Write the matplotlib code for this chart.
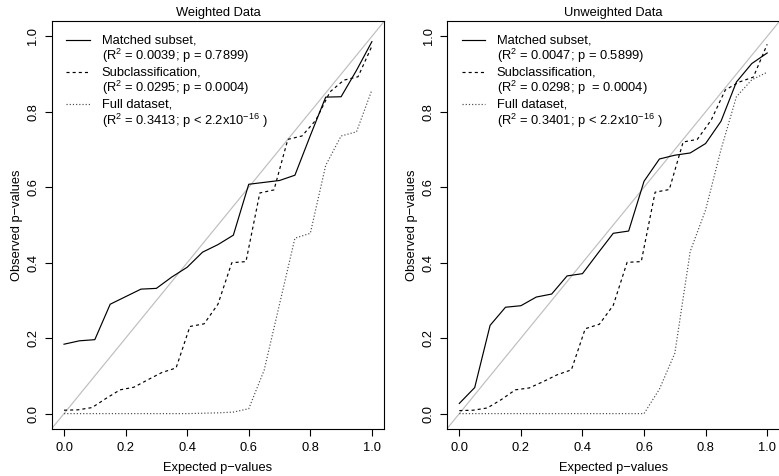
import numpy as np
import matplotlib
matplotlib.use("Agg")
import matplotlib.pyplot as plt

plt.rcParams['font.family'] = ['Liberation Sans', 'DejaVu Sans']
plt.rcParams['mathtext.fontset'] = 'custom'
plt.rcParams['mathtext.rm'] = 'Liberation Sans'
plt.rcParams['mathtext.it'] = 'Liberation Sans:italic'
plt.rcParams['mathtext.bf'] = 'Liberation Sans:bold'

# ---------------- data ----------------
x_grid = [0.00, 0.05, 0.10, 0.15, 0.20, 0.25, 0.30, 0.35, 0.40, 0.45, 0.50,
          0.55, 0.60, 0.65, 0.70, 0.75, 0.80, 0.85, 0.90, 0.95, 1.00]
x_sub = [0.000, 0.045, 0.091, 0.136, 0.182, 0.227, 0.273, 0.318, 0.364, 0.409,
         0.455, 0.500, 0.545, 0.591, 0.636, 0.682, 0.727, 0.773, 0.818, 0.864,
         0.909, 0.955, 1.000]

# Weighted data
w_matched = [0.184, 0.193, 0.196, 0.290, 0.310, 0.330, 0.332, 0.362, 0.388, 0.428, 0.448,
             0.473, 0.608, 0.613, 0.618, 0.632, 0.737, 0.839, 0.840, 0.910, 0.986]
w_subclass = [0.009, 0.010, 0.016, 0.040, 0.063, 0.070, 0.090, 0.109, 0.121, 0.231, 0.238,
              0.290, 0.400, 0.403, 0.585, 0.593, 0.727, 0.736, 0.778, 0.853, 0.884, 0.893, 0.974]
w_full = [0.000, 0.000, 0.000, 0.000, 0.000, 0.000, 0.000, 0.000, 0.000, 0.001, 0.002,
          0.004, 0.013, 0.115, 0.290, 0.465, 0.478, 0.658, 0.736, 0.747, 0.858]

# Unweighted data
u_matched = [0.027, 0.069, 0.234, 0.282, 0.286, 0.309, 0.317, 0.365, 0.371, 0.425, 0.478,
             0.484, 0.616, 0.675, 0.685, 0.691, 0.716, 0.775, 0.879, 0.928, 0.956]
u_subclass = [0.008, 0.009, 0.015, 0.037, 0.063, 0.068, 0.085, 0.103, 0.116, 0.225, 0.237,
              0.287, 0.401, 0.403, 0.587, 0.594, 0.720, 0.727, 0.778, 0.858, 0.879, 0.892, 0.979]
u_full = [0.000, 0.000, 0.000, 0.000, 0.000, 0.000, 0.000, 0.000, 0.000, 0.000, 0.000,
          0.000, 0.000, 0.065, 0.160, 0.430, 0.540, 0.700, 0.840, 0.885, 0.905]

titles = ["Weighted Data", "Unweighted Data"]
legend_names = ["Matched subset,", "Subclassification,", "Full dataset,"]
legend_stats = [
    [r"($\mathrm{R}^2$ = 0.0039; p = 0.7899)",
     r"($\mathrm{R}^2$ = 0.0295; p = 0.0004)",
     r"($\mathrm{R}^2$ = 0.3413; p < 2.2x$\mathrm{10}^{-16}$ )"],
    [r"($\mathrm{R}^2$ = 0.0047; p = 0.5899)",
     r"($\mathrm{R}^2$ = 0.0298; p  = 0.0004)",
     r"($\mathrm{R}^2$ = 0.3401; p < 2.2x$\mathrm{10}^{-16}$ )"],
]
ticks = [0.0, 0.2, 0.4, 0.6, 0.8, 1.0]
tick_labels = ["0.0", "0.2", "0.4", "0.6", "0.8", "1.0"]

# ---------------- figure ----------------
W, H = 779, 476
fig = plt.figure(figsize=(W / 100, H / 100), dpi=100)
fs = 9.3

ax_w = 332.5 / W
ax_h = 407.4 / H
ax_b = (H - 428.7) / H
ax1 = fig.add_axes([51.7 / W, ax_b, ax_w, ax_h])
ax2 = fig.add_axes([447.0 / W, ax_b, ax_w, ax_h])

styles = [dict(ls='-', color='black', lw=0.85),
          dict(ls=(0, (2.6, 2.6)), color='black', lw=0.85),
          dict(ls=(0, (1.0, 1.7)), color='#4a4a4a', lw=0.85)]

panels = [(ax1, [w_matched, w_subclass, w_full]),
          (ax2, [u_matched, u_subclass, u_full])]

for i, (ax, series) in enumerate(panels):
    ax.axline((0, 0), slope=1, color='#BEBEBE', lw=0.85, zorder=1)
    xs = [x_grid, x_sub, x_grid]
    for xv, yv, st in zip(xs, series, styles):
        ax.plot(xv, yv, zorder=2, **st)
    ax.set_xlim(-0.04, 1.04)
    ax.set_ylim(-0.04, 1.04)
    ax.set_xticks(ticks)
    ax.set_xticklabels(tick_labels, fontsize=fs)
    ax.set_yticks(ticks)
    ax.set_yticklabels(tick_labels, fontsize=fs, rotation=90, va='center')
    ax.tick_params(axis='both', direction='out', length=5, width=0.8, color='black')
    ax.tick_params(axis='x', pad=4.5)
    ax.tick_params(axis='y', pad=4.0)
    for sp in ax.spines.values():
        sp.set_color('black')
        sp.set_linewidth(0.8)
    ax.set_title(titles[i], fontsize=fs, pad=4)
    ax.set_xlabel("Expected p\u2212values", fontsize=fs, labelpad=5.5)
    ax.set_ylabel("Observed p\u2212values", fontsize=fs, labelpad=3)

    # legend (R style, no box)
    line_h = 16.1 / 407.4
    y0 = 1 - (40 - 21.3) / 407.4
    for k in range(3):
        yk = y0 - 2 * k * line_h
        ax.plot([0.044, 0.114], [yk, yk], transform=ax.transAxes, clip_on=False, **styles[k])
        ax.text(0.150, yk, legend_names[k], transform=ax.transAxes, fontsize=fs,
                va='center', ha='left')
        ax.text(0.150, yk - line_h, legend_stats[i][k], transform=ax.transAxes, fontsize=fs,
                va='center', ha='left')

fig.savefig("out.png", dpi=100)
